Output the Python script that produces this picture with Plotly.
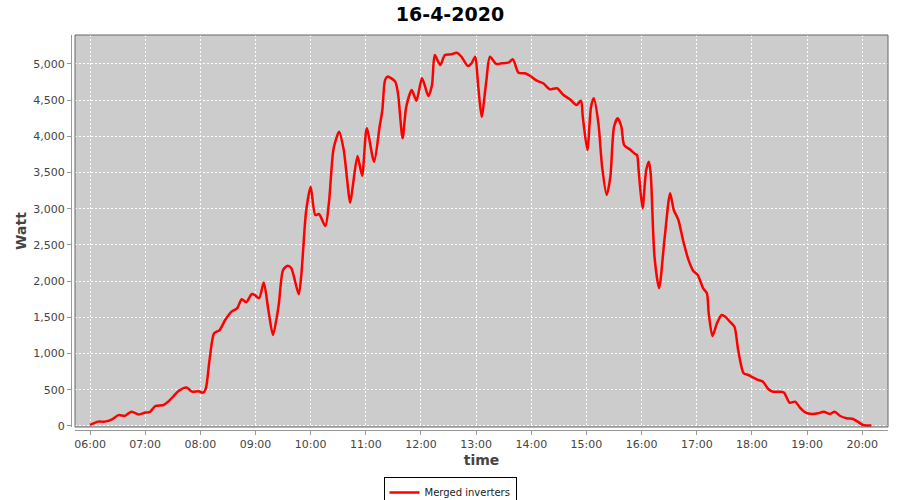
import plotly.graph_objects as go

DATE = "2020-04-16"

times = [
    "06:00", "06:09", "06:16", "06:24", "06:31", "06:38", "06:45", "06:53",
    "07:00", "07:05", "07:11", "07:20", "07:25", "07:31", "07:36", "07:45",
    "07:51", "07:58", "08:03", "08:06", "08:10", "08:15", "08:21", "08:27",
    "08:34", "08:40", "08:45", "08:50", "08:56", "08:59", "09:04", "09:09",
    "09:14", "09:19", "09:25", "09:30", "09:35", "09:39", "09:47", "09:50",
    "09:55", "10:00", "10:05", "10:09", "10:16", "10:20", "10:25", "10:31",
    "10:36", "10:43", "10:46", "10:51", "10:56", "11:01", "11:09", "11:15",
    "11:18", "11:21", "11:24", "11:26", "11:32", "11:35", "11:40", "11:44",
    "11:50", "11:55", "12:01", "12:04", "12:08", "12:12", "12:15", "12:21",
    "12:26", "12:33", "12:39", "12:44", "12:51", "12:55", "12:59", "13:02",
    "13:06", "13:11", "13:15", "13:22", "13:28", "13:35", "13:40", "13:46",
    "13:53", "13:59", "14:06", "14:13", "14:20", "14:28", "14:35", "14:42",
    "14:49", "14:54", "14:56", "15:01", "15:05", "15:08", "15:13", "15:17",
    "15:22", "15:26", "15:30", "15:34", "15:38", "15:41", "15:48", "15:53",
    "15:55", "15:57", "16:01", "16:05", "16:08", "16:10", "16:14", "16:19",
    "16:25", "16:31", "16:35", "16:40", "16:45", "16:51", "16:56", "17:01",
    "17:07", "17:11", "17:13", "17:17", "17:22", "17:27", "17:31", "17:36",
    "17:41", "17:45", "17:51", "17:56", "18:01", "18:07", "18:12", "18:18",
    "18:23", "18:31", "18:35", "18:41", "18:47", "18:52", "18:58", "19:05",
    "19:12", "19:18", "19:25", "19:30", "19:36", "19:43", "19:50", "19:55",
    "20:01", "20:10",
]

watt = [
    15, 60, 60, 92, 150, 140, 198, 160,
    185, 190, 276, 290, 336, 414, 479, 530,
    474, 479, 460, 520, 911, 1280, 1325, 1464,
    1580, 1625, 1750, 1710, 1823, 1810, 1765, 1980,
    1602, 1257, 1648, 2154, 2214, 2178, 1819, 2109,
    2960, 3305, 2914, 2928, 2762, 3098, 3835, 4065,
    3812, 3084, 3328, 3729, 3457, 4111, 3650, 4133,
    4364, 4780, 4826, 4815, 4755, 4594, 3973, 4410,
    4640, 4493, 4802, 4709, 4557, 4709, 5124, 4985,
    5124, 5133, 5156, 5100, 4972, 5009, 5100, 4733,
    4271, 4755, 5100, 4999, 5009, 5018, 5064, 4880,
    4871, 4834, 4769, 4733, 4650, 4664, 4571, 4512,
    4433, 4493, 4271, 3812, 4410, 4525, 4180, 3581,
    3190, 3443, 4133, 4249, 4133, 3880, 3812, 3756,
    3742, 3490, 3006, 3535, 3650, 3466, 2338, 1902,
    2592, 3213, 2983, 2845, 2569, 2293, 2145, 2085,
    1902, 1833, 1556, 1243, 1418, 1533, 1509, 1440,
    1371, 1050, 728, 704, 672, 635, 612, 507,
    474, 474, 460, 322, 336, 258, 189, 166,
    175, 198, 166, 198, 138, 106, 97, 60,
    14, 5,
]

x_ticks = ["06:00", "07:00", "08:00", "09:00", "10:00", "11:00", "12:00", "13:00",
           "14:00", "15:00", "16:00", "17:00", "18:00", "19:00", "20:00"]
y_ticks = [0, 500, 1000, 1500, 2000, 2500, 3000, 3500, 4000, 4500, 5000]

x_vals = [f"{DATE} {t}" for t in times]

fig = go.Figure()
fig.add_trace(go.Scatter(
    x=x_vals, y=watt, mode="lines", name="Merged inverters",
    line=dict(color="#FF0000", width=2.5, shape="spline", smoothing=0.7),
))

tick_font = dict(family="DejaVu Sans", size=11, color="#444444")
title_font = dict(family="DejaVu Sans", size=14, color="#444444")

fig.update_layout(
    width=900, height=500,
    margin=dict(l=71, r=12, t=35, b=70, autoexpand=False),
    paper_bgcolor="white",
    plot_bgcolor="#CCCCCC",
    title=dict(text="<b>16-4-2020</b>", x=0.5, xref="container", xanchor="center",
               y=1 - 14 / 500, yref="container", yanchor="middle",
               font=dict(family="DejaVu Sans", size=19, color="black"),
               automargin=False),
    showlegend=True,
    legend=dict(orientation="h", xref="container", x=0.5, xanchor="center",
                yref="container", y=1 - 477 / 500, yanchor="top",
                bordercolor="black", borderwidth=1, bgcolor="white",
                font=dict(family="DejaVu Sans", size=10, color="#222222"),
                itemwidth=30, tracegroupgap=0),
    xaxis=dict(
        type="date", domain=[4 / 817, 1], anchor="free", position=0,
        range=[f"{DATE} 05:43:40", f"{DATE} 20:28:00"],
        tickvals=[f"{DATE} {t}" for t in x_ticks], ticktext=x_ticks,
        showline=True, linecolor="#999999", linewidth=1,
        ticks="outside", ticklen=4, tickcolor="#999999",
        tickfont=tick_font, automargin=False,
        showgrid=True, gridcolor="white", gridwidth=1, griddash="2px,2px",
        zeroline=False,
        title=dict(text="<b>time</b>", font=title_font, standoff=4),
    ),
    yaxis=dict(
        domain=[3 / 395, 1], anchor="free", position=0,
        range=[-14, 5400],
        tickvals=y_ticks, tickformat=",",
        showline=True, linecolor="#999999", linewidth=1,
        ticks="outside", ticklen=4, tickcolor="#999999",
        tickfont=tick_font, automargin=False,
        showgrid=True, gridcolor="white", gridwidth=1, griddash="2px,2px",
        zeroline=False,
        title=dict(text="<b>Watt</b>", font=title_font, standoff=2),
    ),
    shapes=[dict(type="rect", xref="x domain", yref="y domain", x0=0, x1=1, y0=0, y1=1,
                 line=dict(color="#666666", width=1), fillcolor="rgba(0,0,0,0)",
                 layer="above")],
)

fig.write_html("out.html", config={"displayModeBar": False},
               post_script="document.body.style.margin='0';")
